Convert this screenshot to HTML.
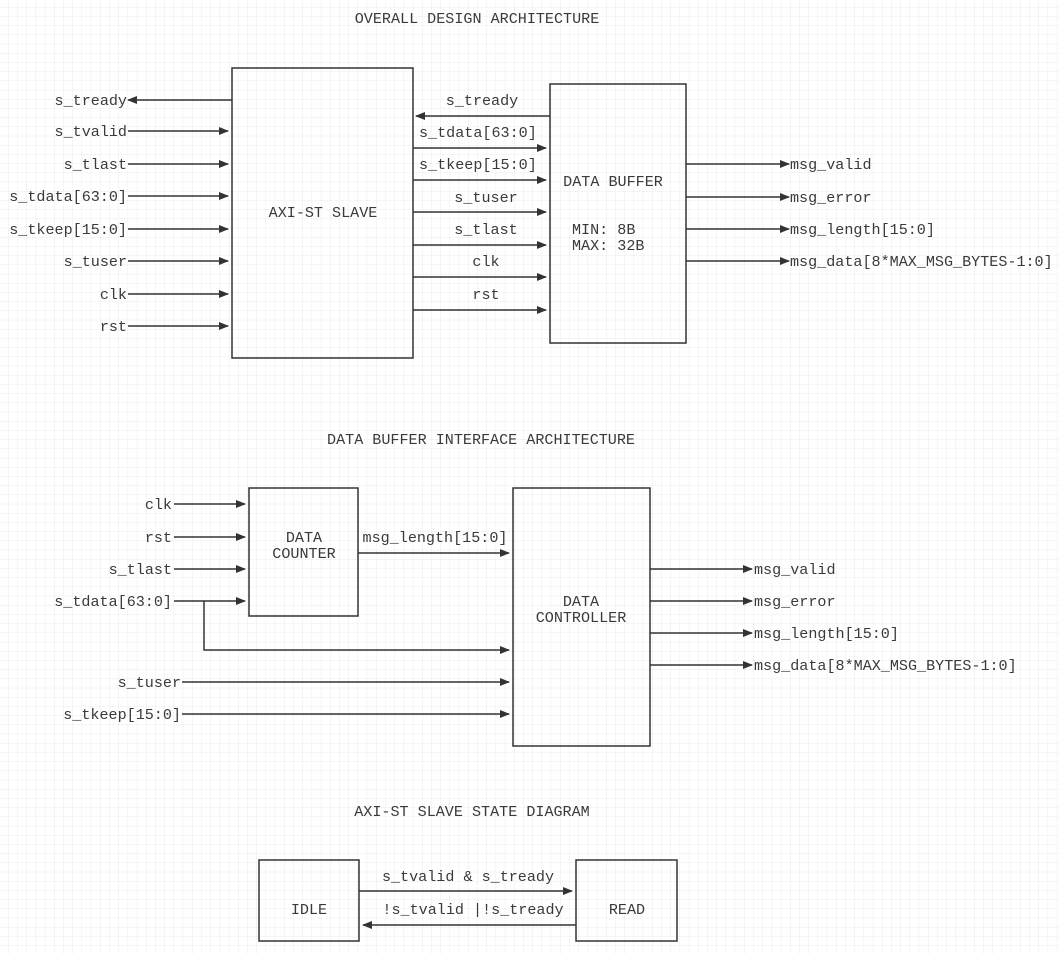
<!DOCTYPE html>
<html><head><meta charset="utf-8"><style>
html,body{margin:0;padding:0;background:#fff;}
svg{display:block;}
text{font-family:"Liberation Mono",monospace;font-size:15.1px;fill:#3a3a3a;}
</style></head><body>
<svg width="1059" height="954" viewBox="0 0 1059 954" xmlns="http://www.w3.org/2000/svg">
<defs>
<pattern id="g" x="8" y="7" width="9.2" height="9.2" patternUnits="userSpaceOnUse">
<path d="M0 0H9.2M0 0V9.2" stroke="#ebebeb" stroke-width="1" fill="none"/>
</pattern>
<marker id="a" markerWidth="10" markerHeight="8" refX="9" refY="4" orient="auto" markerUnits="userSpaceOnUse">
<path d="M0 0L10 4L0 8z" fill="#333"/>
</marker>
</defs>
<rect width="1059" height="954" fill="url(#g)"/>
<g stroke="#333" stroke-width="1.5" fill="none">
<rect x="232" y="68" width="181" height="290"/>
<rect x="550" y="84" width="136" height="259"/>
<rect x="249" y="488" width="109" height="128"/>
<rect x="513" y="488" width="137" height="258"/>
<rect x="259" y="860" width="100" height="81"/>
<rect x="576" y="860" width="101" height="81"/>
</g>
<g stroke="#333" stroke-width="1.5" marker-end="url(#a)">
<line x1="232" y1="100" x2="128" y2="100"/>
<line x1="128" y1="131" x2="228" y2="131"/>
<line x1="128" y1="164" x2="228" y2="164"/>
<line x1="128" y1="196" x2="228" y2="196"/>
<line x1="128" y1="229" x2="228" y2="229"/>
<line x1="128" y1="261" x2="228" y2="261"/>
<line x1="128" y1="294" x2="228" y2="294"/>
<line x1="128" y1="326" x2="228" y2="326"/>
<line x1="550" y1="116" x2="416" y2="116"/>
<line x1="413" y1="148" x2="546" y2="148"/>
<line x1="413" y1="180" x2="546" y2="180"/>
<line x1="413" y1="212" x2="546" y2="212"/>
<line x1="413" y1="245" x2="546" y2="245"/>
<line x1="413" y1="277" x2="546" y2="277"/>
<line x1="413" y1="310" x2="546" y2="310"/>
<line x1="686" y1="164" x2="789" y2="164"/>
<line x1="686" y1="197" x2="789" y2="197"/>
<line x1="686" y1="229" x2="789" y2="229"/>
<line x1="686" y1="261" x2="789" y2="261"/>
<line x1="174" y1="504" x2="245" y2="504"/>
<line x1="174" y1="537" x2="245" y2="537"/>
<line x1="174" y1="569" x2="245" y2="569"/>
<line x1="174" y1="601" x2="245" y2="601"/>
<line x1="358" y1="553" x2="509" y2="553"/>
<polyline points="204,601 204,650 509,650" fill="none"/>
<line x1="182" y1="682" x2="509" y2="682"/>
<line x1="182" y1="714" x2="509" y2="714"/>
<line x1="650" y1="569" x2="752" y2="569"/>
<line x1="650" y1="601" x2="752" y2="601"/>
<line x1="650" y1="633" x2="752" y2="633"/>
<line x1="650" y1="665" x2="752" y2="665"/>
<line x1="359" y1="891" x2="572" y2="891"/>
<line x1="576" y1="925" x2="363" y2="925"/>
</g>
<g text-anchor="middle">
<text x="477" y="23">OVERALL DESIGN ARCHITECTURE</text>
<text x="323" y="217">AXI-ST SLAVE</text>
<text x="613" y="186">DATA BUFFER</text>
<text x="482" y="105">s_tready</text>
<text x="486" y="202">s_tuser</text>
<text x="486" y="234">s_tlast</text>
<text x="486" y="266">clk</text>
<text x="486" y="299">rst</text>
<text x="481" y="444">DATA BUFFER INTERFACE ARCHITECTURE</text>
<text x="304" y="542">DATA</text>
<text x="304" y="558">COUNTER</text>
<text x="435" y="542">msg_length[15:0]</text>
<text x="581" y="606">DATA</text>
<text x="581" y="622">CONTROLLER</text>
<text x="472" y="816">AXI-ST SLAVE STATE DIAGRAM</text>
<text x="309" y="914">IDLE</text>
<text x="627" y="914">READ</text>
<text x="468" y="881">s_tvalid &amp; s_tready</text>
<text x="473" y="914">!s_tvalid |!s_tready</text>
</g>
<g text-anchor="end">
<text x="127" y="105">s_tready</text>
<text x="127" y="136">s_tvalid</text>
<text x="127" y="169">s_tlast</text>
<text x="127" y="201">s_tdata[63:0]</text>
<text x="127" y="234">s_tkeep[15:0]</text>
<text x="127" y="266">s_tuser</text>
<text x="127" y="299">clk</text>
<text x="127" y="331">rst</text>
<text x="172" y="509">clk</text>
<text x="172" y="542">rst</text>
<text x="172" y="574">s_tlast</text>
<text x="172" y="606">s_tdata[63:0]</text>
<text x="181" y="687">s_tuser</text>
<text x="181" y="719">s_tkeep[15:0]</text>
</g>
<g>
<text x="419" y="137">s_tdata[63:0]</text>
<text x="419" y="169">s_tkeep[15:0]</text>
<text x="572" y="234">MIN: 8B</text>
<text x="572" y="250">MAX: 32B</text>
<text x="790" y="169">msg_valid</text>
<text x="790" y="202">msg_error</text>
<text x="790" y="234">msg_length[15:0]</text>
<text x="790" y="266">msg_data[8*MAX_MSG_BYTES-1:0]</text>
<text x="754" y="574">msg_valid</text>
<text x="754" y="606">msg_error</text>
<text x="754" y="638">msg_length[15:0]</text>
<text x="754" y="670">msg_data[8*MAX_MSG_BYTES-1:0]</text>
</g>
</svg>
</body></html>
